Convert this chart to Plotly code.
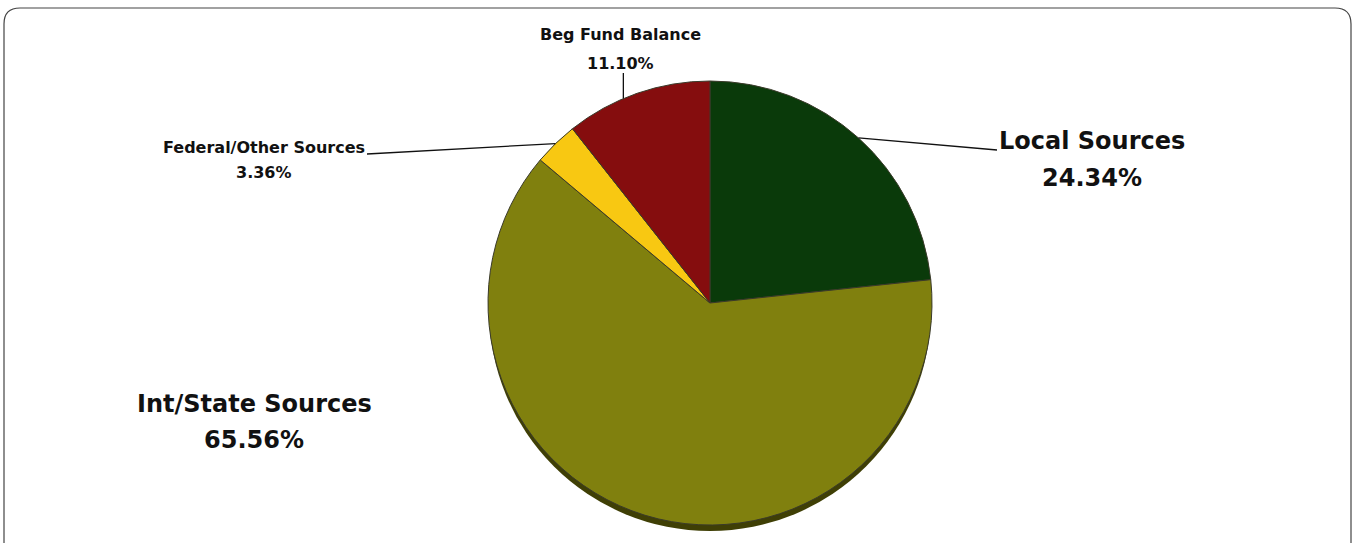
import math
import plotly.graph_objects as go

# Revenue sources, listed clockwise from 12 o'clock
categories = ["Local Sources", "Int/State Sources", "Federal/Other Sources", "Beg Fund Balance"]
shares = [24.34, 65.56, 3.36, 11.10]
colors = ["#0a3a0a", "#80800e", "#f8c812", "#850d0e"]

W, H = 1356, 543
CX, CY, R = 710, 303, 222  # pie centre and radius in pixels (top-left origin)


def px(x):
    return x / W


def py(y):
    return 1 - y / H


def slice_point(idx, frac=0.5, rfrac=1.0):
    """Pixel point inside slice idx at a given fraction of its sweep."""
    start = sum(shares[:idx])
    pos = (start + frac * shares[idx]) / sum(shares)
    ang = 2 * math.pi * pos
    return CX + R * rfrac * math.sin(ang), CY - R * rfrac * math.cos(ang)


fig = go.Figure()

# drop shadow beneath the pie
SH = 7
fig.add_trace(go.Pie(
    values=[1], labels=["shadow"], marker=dict(colors=["#3f3f05"], line=dict(width=0)),
    textinfo="none", hoverinfo="skip", sort=False, showlegend=False,
    domain=dict(x=[px(CX - R + 1), px(CX + R - 1)], y=[py(CY + SH + R), py(CY + SH - R)]),
))

fig.add_trace(go.Pie(
    values=shares, labels=categories, sort=False, direction="clockwise", rotation=0,
    marker=dict(colors=colors, line=dict(color="#3a3a2a", width=1)),
    textinfo="none", showlegend=False,
    domain=dict(x=[px(CX - R), px(CX + R)], y=[py(CY + R), py(CY - R)]),
))

font = "DejaVu Sans, sans-serif"
ann = []
shapes = []


def label(text, pct, x, y1, y2, size):
    for t, y in ((text, y1), (f"{pct:.2f}%", y2)):
        ann.append(dict(x=px(x), y=py(y), xref="paper", yref="paper", text=f"<b>{t}</b>",
                        showarrow=False, font=dict(family=font, size=size, color="#111111"),
                        xanchor="center", yanchor="middle"))


def leader(x0, y0, x1, y1):
    shapes.append(dict(type="line", xref="paper", yref="paper", x0=px(x0), y0=py(y0),
                       x1=px(x1), y1=py(y1), line=dict(color="#111111", width=1.3)))


label(categories[0], shares[0], 1092, 141, 178, 24)
label(categories[1], shares[1], 254, 404, 440, 24)
label(categories[2], shares[2], 264, 147, 173, 16)
label(categories[3], shares[3], 620, 35, 63, 16)

# leader lines from slice edges to labels
lx, ly = slice_point(0, 0.5, 1.0)
leader(lx, ly, 997, 150)
fx, fy = slice_point(2, 0.5, 1.0)
leader(fx, fy, 367, 154)
bx, by = slice_point(3, 0.4, 1.0)
leader(bx, 73, bx, by)

# rounded frame around the chart
x0, x1, y0, y1, rr = 4, 1351, 8, 560, 16
path = (f"M {px(x0 + rr)},{py(y0)} L {px(x1 - rr)},{py(y0)} "
        f"Q {px(x1)},{py(y0)} {px(x1)},{py(y0 + rr)} L {px(x1)},{py(y1 - rr)} "
        f"Q {px(x1)},{py(y1)} {px(x1 - rr)},{py(y1)} L {px(x0 + rr)},{py(y1)} "
        f"Q {px(x0)},{py(y1)} {px(x0)},{py(y1 - rr)} L {px(x0)},{py(y0 + rr)} "
        f"Q {px(x0)},{py(y0)} {px(x0 + rr)},{py(y0)} Z")
shapes.append(dict(type="path", xref="paper", yref="paper", path=path,
                   line=dict(color="#444444", width=1.2), fillcolor="rgba(0,0,0,0)"))

fig.update_layout(
    width=W, height=H, margin=dict(l=0, r=0, t=0, b=0),
    paper_bgcolor="white", plot_bgcolor="white",
    annotations=ann, shapes=shapes,
)

fig.write_html("out.html")
